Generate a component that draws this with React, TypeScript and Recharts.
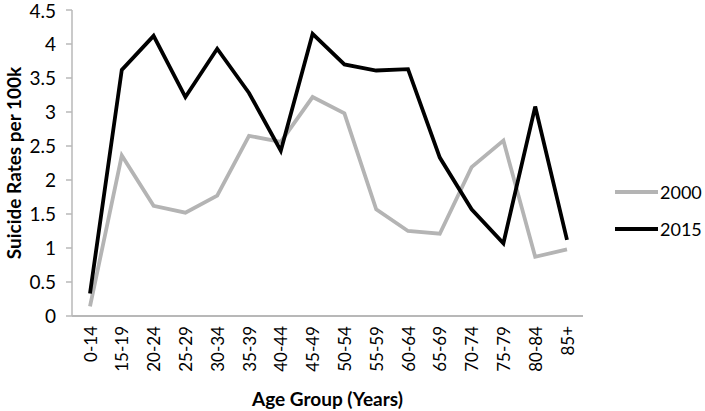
import { LineChart, Line, XAxis, YAxis, Legend } from 'recharts'

const ageGroups = ['0-14', '15-19', '20-24', '25-29', '30-34', '35-39', '40-44', '45-49', '50-54', '55-59', '60-64', '65-69', '70-74', '75-79', '80-84', '85+']
const rates2000 = [0.14, 2.36, 1.62, 1.52, 1.77, 2.65, 2.56, 3.22, 2.98, 1.57, 1.25, 1.21, 2.19, 2.58, 0.87, 0.98]
const rates2015 = [0.33, 3.62, 4.12, 3.22, 3.93, 3.28, 2.43, 4.15, 3.70, 3.61, 3.63, 2.33, 1.57, 1.07, 3.08, 1.12]
const yTicks = [0, 0.5, 1, 1.5, 2, 2.5, 3, 3.5, 4, 4.5]

const series = [
  { key: 'y2000', name: '2000', color: '#b4b4b4' },
  { key: 'y2015', name: '2015', color: '#000000' },
]

const data = ageGroups.map((g, i) => ({ age: g, y2000: rates2000[i], y2015: rates2015[i] }))

const FONT = 'Lato, "Open Sans", sans-serif'

function AgeTick({ x, y, payload }: any) {
  return (
    <text x={x} y={y} transform={`rotate(-90, ${x}, ${y})`} textAnchor="end" dominantBaseline="central"
      fontFamily={FONT} fontSize={17} fill="#000">{payload.value}</text>
  )
}

function renderLegend() {
  return (
    <svg width={93} height={60} style={{ overflow: 'visible', display: 'block' }}>
      {series.map((s, i) => (
        <g key={s.key}>
          <line x1={3} x2={46} y1={14 + i * 37} y2={14 + i * 37} stroke={s.color} strokeWidth={4} />
          <text x={48} y={14 + i * 37} dominantBaseline="central" fontFamily={FONT} fontSize={18} fill="#000">{s.name}</text>
        </g>
      ))}
    </svg>
  )
}

export default function App() {
  return (
    <div style={{ position: 'absolute', left: 0, top: 0, width: 705, height: 411, background: '#fff' }}>
      <LineChart width={705} height={411} data={data} margin={{ top: 10, right: 29, bottom: 0, left: 0 }}>
        <XAxis dataKey="age" height={95} tickLine={false} tickSize={0} tickMargin={10} interval={0}
          padding={{ left: 18, right: 16 }} axisLine={{ stroke: '#b8b8b8', strokeWidth: 2 }} tick={<AgeTick />}
          label={{
            content: ({ viewBox }: any) => (
              <text x={viewBox.x + viewBox.width / 2} y={viewBox.y + 82} textAnchor="middle" dominantBaseline="central"
                fontFamily={FONT} fontSize={19} fontWeight="bold" fill="#000">Age Group (Years)</text>
            ),
          }} />
        <YAxis domain={[0, 4.5]} ticks={yTicks} width={72} tickSize={6} tickMargin={10}
          axisLine={{ stroke: '#b8b8b8', strokeWidth: 1.5 }} tickLine={{ stroke: '#b8b8b8', strokeWidth: 1.5 }}
          tick={{ fontFamily: FONT, fontSize: 19, fill: '#000' }}
          label={{
            content: ({ viewBox }: any) => {
              const cx = 13
              const cy = viewBox.y + viewBox.height / 2
              return (
                <text x={cx} y={cy} transform={`rotate(-90, ${cx}, ${cy})`} textAnchor="middle" dominantBaseline="central"
                  fontFamily={FONT} fontSize={19} fontWeight="bold" fill="#000">Suicide Rates per 100k</text>
              )
            },
          }} />
        <Legend content={renderLegend} layout="vertical" align="right" verticalAlign="middle" width={93}
          wrapperStyle={{ position: 'absolute', left: 612, top: 178, width: 93 }} />
        {series.map(s => (
          <Line key={s.key} dataKey={s.key} name={s.name} type="linear" stroke={s.color} strokeWidth={3.8}
            dot={false} activeDot={false} isAnimationActive={false} />
        ))}
      </LineChart>
    </div>
  )
}
